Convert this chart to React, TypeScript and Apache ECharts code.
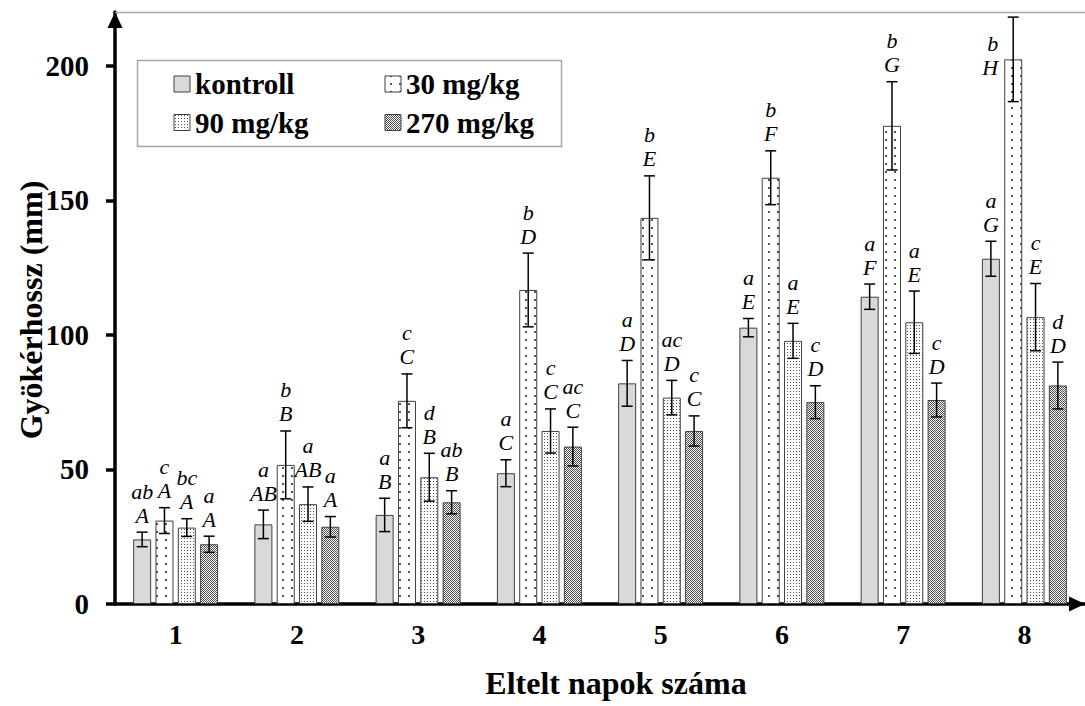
import React, { useEffect, useRef } from 'react';
import * as echarts from 'echarts';

// Days elapsed (category axis)
const categories = ['1', '2', '3', '4', '5', '6', '7', '8'];
const seriesNames = ['kontroll', '30 mg/kg', '90 mg/kg', '270 mg/kg'];

// Mean root length (mm) per treatment
const kontroll = [24.0, 29.6, 33.1, 48.6, 82.0, 102.7, 114.2, 128.3];
const mg30 = [31.0, 51.7, 75.5, 116.7, 143.5, 158.4, 177.7, 202.4];
const mg90 = [28.4, 37.1, 47.1, 64.3, 76.7, 97.8, 104.7, 106.6];
const mg270 = [22.2, 28.7, 37.8, 58.5, 64.3, 75.0, 75.8, 81.2];

// Standard deviations (mm)
const kontrollErr = [2.7, 5.3, 6.2, 5.0, 8.5, 3.4, 4.7, 6.5];
const mg30Err = [4.8, 12.6, 10.0, 13.7, 15.6, 10.0, 16.4, 15.7];
const mg90Err = [3.3, 6.4, 8.9, 8.2, 6.4, 6.5, 11.6, 12.5];
const mg270Err = [3.0, 3.8, 4.3, 7.2, 5.6, 6.1, 6.3, 8.7];

// Significance letters: lowercase = within a day, uppercase = within a treatment
const kontrollLower = ['ab', 'a', 'a', 'a', 'a', 'a', 'a', 'a'];
const mg30Lower = ['c', 'b', 'c', 'b', 'b', 'b', 'b', 'b'];
const mg90Lower = ['bc', 'a', 'd', 'c', 'ac', 'a', 'a', 'c'];
const mg270Lower = ['a', 'a', 'ab', 'ac', 'c', 'c', 'c', 'd'];
const kontrollUpper = ['A', 'AB', 'B', 'C', 'D', 'E', 'F', 'G'];
const mg30Upper = ['A', 'B', 'C', 'D', 'E', 'F', 'G', 'H'];
const mg90Upper = ['A', 'AB', 'B', 'C', 'D', 'E', 'E', 'E'];
const mg270Upper = ['A', 'A', 'B', 'C', 'C', 'D', 'D', 'D'];

const yTicks = [0, 50, 100, 150, 200];

const means = [kontroll, mg30, mg90, mg270];
const errs = [kontrollErr, mg30Err, mg90Err, mg270Err];
const lowers = [kontrollLower, mg30Lower, mg90Lower, mg270Lower];
const uppers = [kontrollUpper, mg30Upper, mg90Upper, mg270Upper];

const FONT = 'Liberation Serif, Times New Roman, Times, serif';
const BAR_W = 18;
const BAR_GAP = 0.24;
const GRID_TOP = 12;

type Fill = string | { image: HTMLCanvasElement; repeat: string; imageWidth: number; imageHeight: number };

function tile(w: number, h: number, draw: (ctx: CanvasRenderingContext2D) => void): Fill {
  const c = document.createElement('canvas');
  c.width = w;
  c.height = h;
  const ctx = c.getContext('2d')!;
  ctx.fillStyle = '#ffffff';
  ctx.fillRect(0, 0, w, h);
  draw(ctx);
  return { image: c, repeat: 'repeat', imageWidth: w, imageHeight: h };
}

function makeFills(): Fill[] {
  const sparseDots = tile(9, 8, (ctx) => {
    ctx.fillStyle = '#555555';
    ctx.fillRect(3, 3, 2, 2);
  });
  const fineDots = tile(3, 3, (ctx) => {
    ctx.fillStyle = '#505050';
    ctx.fillRect(1, 1, 1, 1);
  });
  const checker = tile(2, 2, (ctx) => {
    ctx.fillStyle = '#4d4d4d';
    ctx.fillRect(0, 0, 1, 1);
    ctx.fillRect(1, 1, 1, 1);
  });
  return ['#d9d9d9', sparseDots, fineDots, checker];
}

function textStyle(text: string, size: number, weight: string, italic: boolean, align: string) {
  return {
    text,
    fontFamily: FONT,
    fontSize: size,
    fontWeight: weight,
    fontStyle: italic ? 'italic' : 'normal',
    fill: '#000',
    align,
    verticalAlign: 'middle',
    textAlign: align,
    textVerticalAlign: 'middle',
  };
}

export default function App() {
  const ref = useRef<HTMLDivElement>(null);

  useEffect(() => {
    if (!ref.current) return;
    const chart = echarts.init(ref.current, undefined, { renderer: 'svg' });
    const fills = makeFills();

    const barSeries = seriesNames.map((name, t) => ({
      name,
      type: 'bar',
      data: means[t],
      barWidth: BAR_W,
      barGap: `${BAR_GAP * 100}%`,
      itemStyle: { color: fills[t], borderColor: '#404040', borderWidth: 1 },
      z: 2,
    }));

    const markData: number[][] = [];
    means.forEach((arr, t) => arr.forEach((v, i) => markData.push([i, v, errs[t][i], t])));

    const pitch = BAR_W * (1 + BAR_GAP);

    const errorSeries = {
      type: 'custom',
      z: 5,
      clip: false,
      encode: { x: 0, y: 1 },
      data: markData,
      renderItem: (params: any, api: any) => {
        const idx = params.dataIndex;
        const t = Math.floor(idx / categories.length);
        const i = idx % categories.length;
        const mean = means[t][i];
        const err = errs[t][i];
        const cx = api.coord([i, 0])[0] + (t - 1.5) * pitch;
        const yTop = api.coord([i, mean + err])[1];
        const yBot = api.coord([i, mean - err])[1];
        const yBar = api.coord([i, mean])[1];
        const cap = 5.5;
        const line = (x1: number, y1: number, x2: number, y2: number) => ({
          type: 'line',
          shape: { x1, y1, x2, y2 },
          style: { stroke: '#000', lineWidth: 1.5 },
        });
        let tx = cx;
        let align = 'center';
        let yU = yTop - 17;
        let yL = yU - 24;
        if (yL < GRID_TOP + 14) {
          // no room above: put the letters beside the bar, on its left
          tx = cx - BAR_W / 2 - 6;
          align = 'right';
          yU = yBar + 8;
          yL = yU - 24;
        }
        const letter = (text: string, y: number) => ({
          type: 'text',
          x: tx,
          y,
          style: textStyle(text, 22, 'normal', true, align),
        });
        return {
          type: 'group',
          children: [
            line(cx, yTop, cx, yBot),
            line(cx - cap, yTop, cx + cap, yTop),
            line(cx - cap, yBot, cx + cap, yBot),
            letter(uppers[t][i], yU),
            letter(lowers[t][i], yL),
          ],
        };
      },
    };

    const legendCols = [174, 385];
    const legendRows = [76, 114.5];
    const legendEls: any[] = [
      {
        type: 'rect',
        shape: { x: 137.5, y: 60.5, width: 424, height: 86 },
        style: { fill: '#fff', stroke: '#a6a6a6', lineWidth: 1.5 },
        z: 10,
      },
    ];
    seriesNames.forEach((name, t) => {
      const x = legendCols[t % 2];
      const y = legendRows[Math.floor(t / 2)];
      legendEls.push({
        type: 'rect',
        shape: { x, y, width: 16, height: 16 },
        style: { fill: fills[t], stroke: '#404040', lineWidth: 1 },
        z: 11,
      });
      legendEls.push({
        type: 'text',
        x: x + 21,
        y: y + 8,
        style: textStyle(name, 29, 'bold', false, 'left'),
        z: 11,
      });
    });

    chart.setOption({
      animation: false,
      backgroundColor: '#fff',
      grid: { left: 115, top: GRID_TOP, width: 981.6, bottom: 102, containLabel: false },
      xAxis: {
        type: 'category',
        data: categories,
        axisLine: {
          lineStyle: { color: '#000', width: 3.5 },
          symbol: ['none', 'triangle'],
          symbolSize: [15, 16],
          symbolOffset: [0, -8],
        },
        axisTick: { show: false },
        axisLabel: { fontFamily: FONT, fontWeight: 'bold', fontSize: 28, color: '#000', margin: 16 },
      },
      yAxis: {
        type: 'value',
        min: 0,
        max: 220,
        axisLine: {
          show: true,
          lineStyle: { color: '#000', width: 3.5 },
          symbol: ['none', 'triangle'],
          symbolSize: [15, 16],
          symbolOffset: [0, -8],
        },
        axisTick: { show: true, length: 9, lineStyle: { color: '#000', width: 3.5 }, customValues: yTicks },
        axisLabel: {
          customValues: yTicks,
          fontFamily: FONT,
          fontWeight: 'bold',
          fontSize: 29,
          color: '#000',
          margin: 26,
        },
        splitLine: { show: false },
      },
      graphic: [
        {
          type: 'line',
          shape: { x1: 115, y1: 12.5, x2: 1085, y2: 12.5 },
          style: { stroke: '#a6a6a6', lineWidth: 1.5 },
          z: 1,
        },
        {
          type: 'text',
          x: 31,
          y: 310,
          rotation: Math.PI / 2,
          style: textStyle('Gyökérhossz (mm)', 32, 'bold', false, 'center'),
        },
        {
          type: 'text',
          x: 616,
          y: 683,
          style: textStyle('Eltelt napok száma', 32, 'bold', false, 'center'),
        },
        ...legendEls,
      ],
      series: [...barSeries, errorSeries],
    });

    return () => chart.dispose();
  }, []);

  return (
    <div
      ref={ref}
      style={{ position: 'absolute', left: 0, top: 0, width: 1085, height: 706, background: '#fff' }}
    />
  );
}
